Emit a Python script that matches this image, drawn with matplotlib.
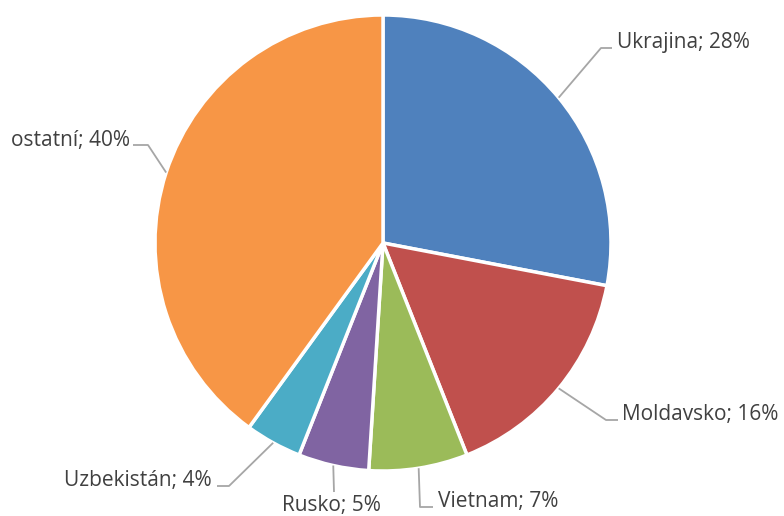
import numpy as np
import matplotlib.pyplot as plt

labels = ['Ukrajina', 'Moldavsko', 'Vietnam', 'Rusko', 'Uzbekistán', 'ostatní']
shares = [28, 16, 7, 5, 4, 40]
colors = ['#4F81BD', '#C0504D', '#9BBB59', '#8064A2', '#4BACC6', '#F79646']

W, H = 784, 516
cx, cy, R = 383, H - 243, 228

fig = plt.figure(figsize=(W / 100, H / 100), dpi=100)
ax = fig.add_axes([0, 0, 1, 1])

wedges, _ = ax.pie(shares, colors=colors, startangle=90, counterclock=False,
                   center=(cx, cy), radius=R,
                   wedgeprops=dict(edgecolor='white', linewidth=2.5))
ax.set_xlim(0, W)
ax.set_ylim(0, H)
ax.set_aspect('equal')
ax.axis('off')

# leader line elbow / end points and label anchors (pixels from top-left)
elbows = [(601, 48), (606, 420), (420, 507), (334, 492), (229, 486), (148, 145)]
ends = [(612, 48), (618, 420), (433, 507), (334, 492), (217, 486), (133, 145)]
texts = [(617, 48, 'left', 'baseline'), (622, 420, 'left', 'baseline'),
         (438, 507, 'left', 'baseline'), (331, 511, 'center', 'baseline'),
         (212, 486, 'right', 'baseline'), (130, 146, 'right', 'baseline')]

for w, lab, s, el, en, (tx, ty, ha, va) in zip(wedges, labels, shares, elbows, ends, texts):
    mid = np.radians((w.theta1 + w.theta2) / 2)
    px = cx + R * np.cos(mid)
    py = cy + R * np.sin(mid)
    ax.plot([px, el[0], en[0]], [py, H - el[1], H - en[1]], color='#A6A6A6', lw=1.3,
            solid_capstyle='butt')
    ax.text(tx, H - ty, f'{lab}; {s}%', ha=ha, va=va, fontsize=15,
            family='Open Sans', color='#404040')

fig.savefig('out.png', dpi=100)
